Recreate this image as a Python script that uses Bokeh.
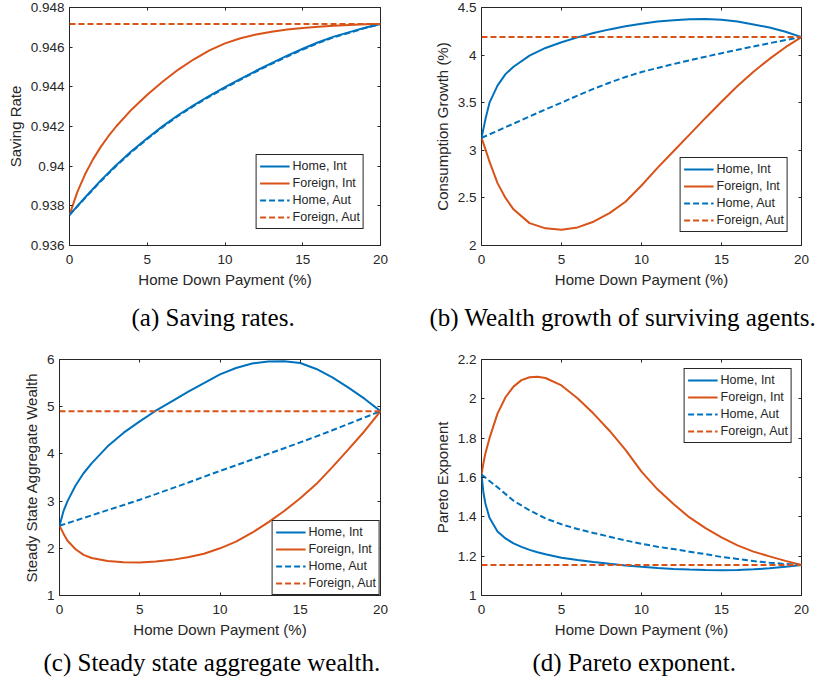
from bokeh.plotting import figure
from bokeh.models import Range1d, FixedTicker, LinearAxis, Legend, LegendItem, Title
from bokeh.layouts import column, row
from bokeh.embed import file_html
from bokeh.resources import INLINE

# ---------------- data ----------------
x_ticks = [0, 5, 10, 15, 20]
x_tick_labels = ["0", "5", "10", "15", "20"]
x_label = "Home Down Payment (%)"
series_names = ["Home, Int", "Foreign, Int", "Home, Aut", "Foreign, Aut"]

x_int = [0, 1, 2, 3, 4, 5, 6, 7, 8, 9, 10, 11, 12, 13, 14, 15, 16, 17, 18, 19, 20]
x_aut_flat = [0, 20]

# (a) Saving rates
a_yticks = [0.936, 0.938, 0.940, 0.942, 0.944, 0.946, 0.948]
a_ytick_labels = ["0.936", "0.938", "0.94", "0.942", "0.944", "0.946", "0.948"]
a_x_foreign = [0, 0.5, 1, 1.5, 2, 2.5, 3, 4, 5, 6, 7, 8, 9, 10, 11, 12, 13, 14, 15, 16, 17, 18, 19, 20]
a_home_int = [0.93754, 0.93842, 0.93927, 0.94005, 0.94076, 0.94141, 0.94202, 0.94258, 0.94308, 0.94355,
              0.94398, 0.94440, 0.94481, 0.94520, 0.94557, 0.94592, 0.94625, 0.94653, 0.94676, 0.94698, 0.94717]
a_foreign_int = [0.93754, 0.93869, 0.93959, 0.94033, 0.94096, 0.94151, 0.94200, 0.94286, 0.94360, 0.94427,
                 0.94487, 0.94539, 0.94584, 0.94619, 0.94645, 0.94664, 0.94678, 0.94689, 0.94697, 0.94703,
                 0.94708, 0.94712, 0.94715, 0.94717]
a_home_aut = [0.93754, 0.93839, 0.93923, 0.94001, 0.94072, 0.94137, 0.94198, 0.94254, 0.94304, 0.94351,
              0.94394, 0.94436, 0.94477, 0.94516, 0.94553, 0.94588, 0.94621, 0.94650, 0.94673, 0.94696, 0.94717]
a_foreign_aut = [0.94717, 0.94717]

# (b) Wealth growth of surviving agents
b_yticks = [2, 2.5, 3, 3.5, 4, 4.5]
b_ytick_labels = ["2", "2.5", "3", "3.5", "4", "4.5"]
b_x_int = [0, 0.25, 0.5, 1, 1.5, 2, 3, 4, 5, 6, 7, 8, 9, 10, 11, 12, 13, 14, 15, 16, 17, 18, 19, 20]
b_home_int = [3.13, 3.33, 3.50, 3.68, 3.80, 3.878, 3.995, 4.075, 4.135, 4.186, 4.232, 4.27, 4.302, 4.329,
              4.352, 4.367, 4.376, 4.378, 4.371, 4.352, 4.322, 4.29, 4.245, 4.189]
b_foreign_int = [3.13, 3.01, 2.88, 2.655, 2.50, 2.38, 2.235, 2.18, 2.166, 2.19, 2.25, 2.34, 2.46, 2.63,
                 2.815, 2.99, 3.165, 3.34, 3.51, 3.675, 3.826, 3.96, 4.083, 4.189]
b_home_aut = [3.13, 3.205, 3.28, 3.355, 3.43, 3.50, 3.575, 3.645, 3.71, 3.77, 3.822, 3.865, 3.906, 3.945,
              3.983, 4.02, 4.056, 4.091, 4.125, 4.158, 4.189]
b_foreign_aut = [4.189, 4.189]

# (c) Steady state aggregate wealth
c_yticks = [1, 2, 3, 4, 5, 6]
c_ytick_labels = ["1", "2", "3", "4", "5", "6"]
c_x_int = [0, 0.25, 0.5, 1, 1.5, 2, 3, 4, 5, 6, 7, 8, 9, 10, 11, 12, 13, 14, 15, 16, 17, 18, 19, 20]
c_home_int = [2.478, 2.79, 3.0, 3.33, 3.59, 3.80, 4.16, 4.45, 4.69, 4.915, 5.115, 5.315, 5.50, 5.685,
              5.82, 5.915, 5.96, 5.965, 5.925, 5.80, 5.62, 5.405, 5.17, 4.904]
c_foreign_int = [2.478, 2.31, 2.16, 1.98, 1.86, 1.795, 1.73, 1.703, 1.698, 1.718, 1.755, 1.81, 1.885, 2.0,
                 2.14, 2.33, 2.55, 2.79, 3.06, 3.36, 3.72, 4.095, 4.48, 4.904]
c_home_aut = [2.478, 2.588, 2.698, 2.808, 2.918, 3.03, 3.148, 3.27, 3.39, 3.515, 3.64, 3.76, 3.88, 4.0,
              4.12, 4.245, 4.37, 4.50, 4.635, 4.77, 4.904]
c_foreign_aut = [4.904, 4.904]

# (d) Pareto exponent
d_yticks = [1, 1.2, 1.4, 1.6, 1.8, 2, 2.2]
d_ytick_labels = ["1", "1.2", "1.4", "1.6", "1.8", "2", "2.2"]
d_x_int = [0, 0.125, 0.25, 0.5, 1, 1.5, 2, 2.5, 3, 3.5, 4, 5, 6, 7, 8, 9, 10, 11, 12, 13, 14, 15, 16, 17, 18, 19, 20]
d_home_int = [1.615, 1.52, 1.465, 1.395, 1.325, 1.29, 1.265, 1.247, 1.232, 1.22, 1.21, 1.192, 1.18, 1.17,
              1.161, 1.153, 1.146, 1.14, 1.135, 1.132, 1.13, 1.129, 1.13, 1.133, 1.138, 1.146, 1.155]
d_foreign_int = [1.615, 1.675, 1.725, 1.80, 1.925, 2.008, 2.062, 2.095, 2.11, 2.112, 2.106, 2.068, 2.003,
                 1.925, 1.838, 1.74, 1.63, 1.54, 1.465, 1.397, 1.343, 1.296, 1.255, 1.223, 1.199, 1.176, 1.155]
d_home_aut = [1.615, 1.55, 1.482, 1.433, 1.392, 1.362, 1.338, 1.318, 1.299, 1.28, 1.263, 1.248, 1.236,
              1.223, 1.21, 1.196, 1.186, 1.175, 1.167, 1.16, 1.155]
d_foreign_aut = [1.155, 1.155]

captions = ["(a) Saving rates.", "(b) Wealth growth of surviving agents.",
            "(c) Steady state aggregate wealth.", "(d) Pareto exponent."]
y_labels = ["Saving Rate", "Consumption Growth (%)", "Steady State Aggregate Wealth", "Pareto Exponent"]

# ---------------- style ----------------
BLUE = "#0072BD"
ORANGE = "#D95319"
INK = "#262626"
SANS = "Liberation Sans"
SERIF = "Liberation Serif"


def style_axis(ax, ticks, labels):
    ax.ticker = FixedTicker(ticks=ticks)
    ax.major_label_overrides = dict(zip(ticks, labels))
    ax.major_tick_in = 3
    ax.major_tick_out = 0
    ax.major_tick_line_color = INK
    ax.minor_tick_line_color = None
    ax.axis_line_color = None
    ax.major_label_text_font = SANS
    ax.major_label_text_font_size = "13.5px"
    ax.major_label_text_color = INK
    ax.axis_label_text_font = SANS
    ax.axis_label_text_font_size = "15px"
    ax.axis_label_text_font_style = "normal"
    ax.axis_label_text_color = INK


def tick_only_axis(ticks):
    return LinearAxis(ticker=FixedTicker(ticks=ticks), major_tick_in=3, major_tick_out=0,
                      major_tick_line_color=INK, minor_tick_line_color=None, axis_line_color=None,
                      major_label_text_font_size="0px", major_label_standoff=0)


def make_panel(yr, yticks, ylabels, ylab, caption, series, w, h, ml, mr, mt, mb,
               leg_loc, leg_margin, cap_offset, cap_standoff):
    p = figure(width=w, height=h, min_border_left=ml, min_border_right=mr,
               min_border_top=mt, min_border_bottom=mb, x_range=Range1d(0, 20),
               y_range=Range1d(*yr), output_backend="svg", toolbar_location=None,
               tools="", title=None)
    p.outline_line_color = INK
    p.outline_line_width = 1
    p.outline_line_alpha = 1
    p.grid.visible = False
    p.background_fill_color = "white"
    p.border_fill_color = "white"

    style_axis(p.xaxis[0], x_ticks, x_tick_labels)
    p.xaxis[0].axis_label = x_label
    p.xaxis[0].major_label_standoff = 9
    p.xaxis[0].axis_label_standoff = 4
    style_axis(p.yaxis[0], yticks, ylabels)
    p.yaxis[0].axis_label = ylab
    p.yaxis[0].major_label_standoff = 5
    p.yaxis[0].axis_label_standoff = 4

    p.add_layout(tick_only_axis(x_ticks), "above")
    p.add_layout(tick_only_axis(yticks), "right")

    items = []
    for name, (xs, ys, color, dash) in zip(series_names, series):
        r = p.line(xs, ys, line_color=color, line_width=2, line_dash=dash)
        items.append(LegendItem(label=name, renderers=[r]))

    leg = Legend(items=items, location=leg_loc, margin=leg_margin, padding=3, spacing=1,
                 glyph_width=30, glyph_height=16, label_height=16, label_standoff=3,
                 label_text_font=SANS, label_text_font_size="12.5px", label_text_color=INK,
                 border_line_color=INK, border_line_width=1, border_line_alpha=1,
                 background_fill_color="white", background_fill_alpha=1)
    p.add_layout(leg)

    p.add_layout(Title(text=caption, align="left", offset=cap_offset, standoff=cap_standoff,
                       text_font=SERIF, text_font_size="25px", text_font_style="normal",
                       text_color="black"), "below")
    return p


# row 1: height 344 (top 7, bottom 99); row 2: height 340 (top 15, bottom 89)
pa = make_panel((0.936, 0.948), a_yticks, a_ytick_labels, y_labels[0], captions[0],
                [(x_int, a_home_int, BLUE, "solid"), (a_x_foreign, a_foreign_int, ORANGE, "solid"),
                 (x_int, a_home_aut, BLUE, "6 3"), (x_aut_flat, a_foreign_aut, ORANGE, "6 3")],
                411, 344, 69, 31, 7, 99, "bottom_right", 16, 62, 22)
pb = make_panel((2, 4.5), b_yticks, b_ytick_labels, y_labels[1], captions[1],
                [(b_x_int, b_home_int, BLUE, "solid"), (b_x_int, b_foreign_int, ORANGE, "solid"),
                 (x_int, b_home_aut, BLUE, "6 3"), (x_aut_flat, b_foreign_aut, ORANGE, "6 3")],
                411, 344, 70, 21, 7, 99, "bottom_right", 13, -52, 22)
pc = make_panel((1, 6), c_yticks, c_ytick_labels, y_labels[2], captions[2],
                [(c_x_int, c_home_int, BLUE, "solid"), (c_x_int, c_foreign_int, ORANGE, "solid"),
                 (x_int, c_home_aut, BLUE, "6 3"), (x_aut_flat, c_foreign_aut, ORANGE, "6 3")],
                411, 340, 59, 31, 15, 89, "bottom_right", 0, -16, 12)
pd = make_panel((1, 2.2), d_yticks, d_ytick_labels, y_labels[3], captions[3],
                [(d_x_int, d_home_int, BLUE, "solid"), (d_x_int, d_foreign_int, ORANGE, "solid"),
                 (x_int, d_home_aut, BLUE, "6 3"), (x_aut_flat, d_foreign_aut, ORANGE, "6 3")],
                411, 340, 70, 21, 15, 89, "top_right", 9, 51, 12)

layout = column(row(pa, pb, spacing=0), row(pc, pd, spacing=0), spacing=0)

open("out.html", "w").write(file_html(layout, INLINE))
